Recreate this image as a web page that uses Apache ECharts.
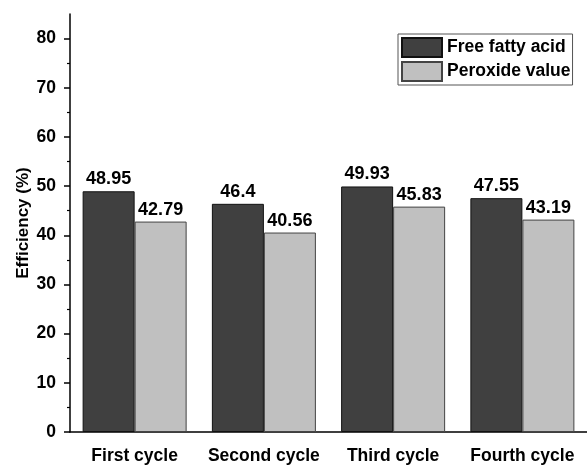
<!DOCTYPE html>
<html><head><meta charset="utf-8">
<script src="https://cdn.jsdelivr.net/npm/echarts@6/dist/echarts.min.js"></script>
<style>html,body{margin:0;padding:0;background:#fff}#c{width:587px;height:465px}</style>
</head><body><div id="c"></div>
<script>
const categories = ['First cycle', 'Second cycle', 'Third cycle', 'Fourth cycle'];
const freeFattyAcid = [48.95, 46.4, 49.93, 47.55];
const peroxideValue = [42.79, 40.56, 45.83, 43.19];
const yTicks = [0, 10, 20, 30, 40, 50, 60, 70, 80];

const F = 'Liberation Sans, Arial, sans-serif';
const chart = echarts.init(document.getElementById('c'));
chart.setOption({
  animation: false,
  backgroundColor: '#fff',
  grid: { left: 70, right: -3, top: 14, bottom: 32 },
  legend: {
    left: 398, top: 34, orient: 'vertical', icon: 'rect',
    itemWidth: 40, itemHeight: 19, itemGap: 3,
    padding: [3, 2, 3, 3],
    borderColor: '#555', borderWidth: 1, backgroundColor: '#fff',
    textStyle: { fontFamily: F, fontWeight: 'bold', fontSize: 17.5, color: '#000' },
    data: ['Free fatty acid', 'Peroxide value']
  },
  xAxis: [{
    type: 'category', data: categories,
    axisLine: { lineStyle: { color: '#000', width: 1.5 } },
    axisTick: { alignWithLabel: true, length: 6, inside: false, lineStyle: { color: '#000', width: 1.5 } },
    axisLabel: { interval: 0, hideOverlap: false, fontFamily: F, fontWeight: 'bold', fontSize: 17.5, color: '#000', margin: 15 }
  }, {
    type: 'category', data: categories, position: 'bottom',
    axisLine: { show: false },
    axisTick: { length: 3, lineStyle: { color: '#000', width: 1.5 } },
    axisLabel: { show: false }
  }],
  yAxis: {
    type: 'value', min: 0, max: 85, interval: 10,
    name: 'Efficiency (%)', nameLocation: 'middle', nameGap: 38, nameMoveOverlap: false,
    nameTextStyle: { fontFamily: F, fontWeight: 'bold', fontSize: 17, color: '#000' },
    axisLine: { show: true, lineStyle: { color: '#000', width: 1.5 } },
    axisTick: { show: true, length: 6, customValues: yTicks, lineStyle: { color: '#000', width: 1.5 } },
    minorTick: { show: true, splitNumber: 2, length: 3, lineStyle: { color: '#000', width: 1.2 } },
    axisLabel: { fontFamily: F, fontWeight: 'bold', fontSize: 17.5, color: '#000', margin: 14, customValues: yTicks },
    splitLine: { show: false }
  },
  series: [{
    name: 'Free fatty acid', type: 'bar', data: freeFattyAcid,
    barWidth: 52, barGap: '0%',
    itemStyle: { color: '#404040', borderColor: '#111', borderWidth: 1 },
    label: { show: true, position: 'top', distance: 3, fontFamily: F, fontWeight: 'bold', fontSize: 18, color: '#000' }
  }, {
    name: 'Peroxide value', type: 'bar', data: peroxideValue,
    barWidth: 52, barGap: '0%',
    itemStyle: { color: '#c0c0c0', borderColor: '#444', borderWidth: 1 },
    label: { show: true, position: 'top', distance: 3, fontFamily: F, fontWeight: 'bold', fontSize: 18, color: '#000' }
  }]
});
</script></body></html>
